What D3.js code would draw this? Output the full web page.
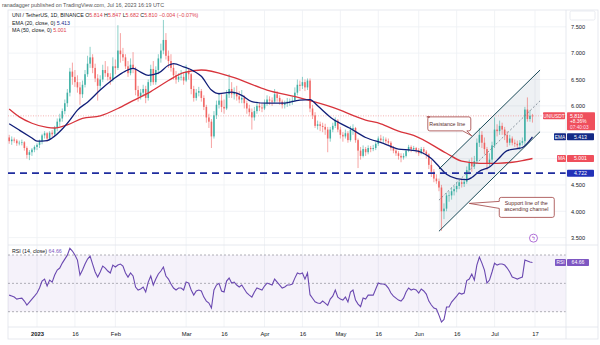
<!DOCTYPE html>
<html><head><meta charset="utf-8">
<script src="https://cdn.jsdelivr.net/npm/d3@7"></script>
<style>
html,body{margin:0;padding:0;background:#fff;}
svg{display:block;font-family:"Liberation Sans",Arial,sans-serif;}
</style></head><body>
<svg id="c" width="600" height="345"></svg>
<script>
// ---------------- DATA ----------------
const startDate = "2022-12-21"; // first daily candle, one candle per day
const opens = [
5.40,5.33,5.36,5.34,5.29,5.30,5.31,5.20,5.07,5.12,
5.17,5.22,5.26,5.33,5.44,5.48,5.38,5.49,5.46,5.58,
5.70,5.76,5.90,6.05,6.25,6.65,6.55,6.45,6.35,6.22,
6.40,6.60,6.80,6.92,6.72,6.52,6.38,6.50,6.68,6.62,
6.55,6.50,6.75,6.72,7.05,6.98,6.92,6.75,6.62,6.78,
6.70,6.30,6.18,6.25,6.32,6.15,6.45,6.70,6.45,6.68,
6.90,7.05,7.25,6.95,6.85,6.72,6.58,6.50,6.55,6.55,
6.48,6.65,6.60,6.32,6.15,6.25,6.28,6.15,5.98,5.78,
5.70,5.42,5.82,6.02,6.10,5.98,5.95,6.22,6.32,6.22,
6.25,6.18,6.12,6.15,6.05,5.95,5.88,5.78,5.90,6.00,
5.97,5.95,6.05,6.12,6.10,6.08,6.22,6.15,6.08,6.02,
6.05,6.08,6.08,6.10,6.25,6.40,6.38,6.45,6.35,6.48,
5.95,5.82,5.62,5.65,5.62,5.60,5.55,5.38,5.55,5.62,
5.72,5.55,5.45,5.42,5.48,5.35,5.55,5.58,5.35,5.15,
5.05,5.18,5.12,5.20,5.18,5.20,5.28,5.38,5.35,5.36,
5.33,5.30,5.20,5.15,5.10,5.05,5.02,5.05,5.15,5.22,
5.18,5.20,5.16,5.10,5.18,5.13,5.08,4.88,4.75,4.62,
4.57,4.45,4.00,4.05,4.30,4.30,4.38,4.42,4.48,4.55,
4.52,4.56,4.78,4.92,4.85,4.95,5.30,5.45,5.30,5.18,
4.90,4.98,5.25,5.55,5.52,5.62,5.55,5.45,5.30,5.38,
5.30,5.28,5.25,5.30,5.33,5.93,5.75,5.814];
const highs = [
5.45,5.42,5.40,5.37,5.34,5.36,5.33,5.23,5.16,5.20,
5.25,5.29,5.36,5.47,5.52,5.50,5.52,5.54,5.62,5.76,
5.85,5.95,6.12,6.32,6.72,6.82,6.68,6.58,6.45,6.48,
6.68,6.95,7.12,6.98,6.80,6.60,6.58,6.78,6.85,6.75,
6.62,6.92,6.88,7.53,7.38,7.10,6.98,6.85,6.90,7.02,
6.74,6.38,6.32,6.40,6.38,6.50,6.78,6.85,6.75,6.98,
7.18,7.63,7.38,7.05,6.98,6.80,6.66,6.62,6.68,6.62,
6.78,6.72,6.62,6.38,6.32,6.36,6.32,6.20,6.02,5.85,
5.75,5.90,6.10,6.25,6.22,6.12,6.30,6.60,6.45,6.35,
6.38,6.28,6.30,6.20,6.10,6.02,5.95,5.98,6.08,6.06,
6.05,6.12,6.20,6.18,6.16,6.32,6.28,6.20,6.12,6.10,
6.15,6.14,6.18,6.35,6.50,6.48,6.55,6.50,6.52,6.52,
6.02,5.88,5.72,5.70,5.68,5.66,5.60,5.60,5.68,5.78,
5.75,5.60,5.50,5.55,5.52,5.62,5.65,5.60,5.38,5.22,
5.25,5.22,5.25,5.24,5.26,5.32,5.42,5.45,5.42,5.40,
5.38,5.33,5.24,5.20,5.14,5.10,5.10,5.18,5.26,5.25,
5.24,5.22,5.20,5.22,5.22,5.16,5.10,4.97,4.80,4.70,
4.62,4.50,4.15,4.35,4.38,4.45,4.48,4.55,4.60,4.62,
4.62,4.85,4.98,5.02,5.05,5.38,5.58,5.52,5.40,5.22,
5.10,5.32,5.78,5.65,5.72,5.68,5.60,5.52,5.45,5.42,
5.36,5.34,5.35,5.40,5.98,6.16,5.92,5.847];
const lows = [
5.28,5.26,5.30,5.24,5.25,5.25,5.15,5.00,4.97,5.05,
5.12,5.16,5.20,5.27,5.38,5.32,5.35,5.40,5.43,5.52,
5.62,5.70,5.84,5.98,6.18,6.40,6.36,6.25,6.02,6.15,
6.35,6.55,6.72,6.62,6.45,6.10,6.30,6.45,6.55,6.48,
6.40,6.46,6.60,6.68,6.82,6.85,6.70,6.55,6.58,6.62,
6.20,6.08,6.12,6.18,6.05,6.10,6.38,6.40,6.40,6.60,
6.82,6.98,6.88,6.72,6.65,6.50,6.42,6.45,6.48,6.40,
6.45,6.50,6.22,6.08,6.10,6.18,6.08,5.92,5.68,5.58,
5.20,5.38,5.75,5.95,5.88,5.85,5.92,6.15,6.15,6.12,
6.10,6.05,6.05,5.95,5.85,5.80,5.55,5.72,5.85,5.90,
5.88,5.92,6.00,6.02,6.00,6.05,6.08,6.02,5.95,5.95,
5.98,6.00,6.02,6.08,6.20,6.28,6.32,6.28,6.30,5.88,
5.75,5.58,5.55,5.52,5.50,5.45,5.12,5.32,5.50,5.58,
5.50,5.38,5.32,5.38,5.30,5.32,5.45,5.30,4.82,4.98,
5.02,5.05,5.08,5.12,5.14,5.16,5.24,5.30,5.30,5.28,
5.26,5.15,5.10,5.05,4.98,4.93,4.98,5.02,5.12,5.12,
5.14,5.10,5.05,5.08,5.08,5.00,4.80,4.65,4.55,4.52,
4.38,3.63,3.85,4.00,4.18,4.22,4.30,4.36,4.42,4.45,
4.46,4.52,4.70,4.75,4.80,4.90,5.22,5.20,5.08,4.78,
4.85,4.92,5.20,5.42,5.45,5.45,5.35,5.22,5.25,5.25,
5.22,5.20,5.16,5.25,5.25,5.70,5.70,5.682];
const closes = [
5.33,5.36,5.34,5.29,5.30,5.31,5.20,5.07,5.12,5.17,
5.22,5.26,5.33,5.44,5.48,5.38,5.49,5.46,5.58,5.70,
5.76,5.90,6.05,6.25,6.65,6.55,6.45,6.35,6.22,6.40,
6.60,6.80,6.92,6.72,6.52,6.38,6.50,6.68,6.62,6.55,
6.50,6.75,6.72,7.05,6.98,6.92,6.75,6.62,6.78,6.70,
6.30,6.18,6.25,6.32,6.15,6.45,6.70,6.45,6.68,6.90,
7.05,7.25,6.95,6.85,6.72,6.58,6.50,6.55,6.55,6.48,
6.65,6.60,6.32,6.15,6.25,6.28,6.15,5.98,5.78,5.70,
5.42,5.82,6.02,6.10,5.98,5.95,6.22,6.32,6.22,6.25,
6.18,6.12,6.15,6.05,5.95,5.88,5.78,5.90,6.00,5.97,
5.95,6.05,6.12,6.10,6.08,6.22,6.15,6.08,6.02,6.05,
6.08,6.08,6.10,6.25,6.40,6.38,6.45,6.35,6.48,5.95,
5.82,5.62,5.65,5.62,5.60,5.55,5.38,5.55,5.62,5.72,
5.55,5.45,5.42,5.48,5.35,5.55,5.58,5.35,5.15,5.05,
5.18,5.12,5.20,5.18,5.20,5.28,5.38,5.35,5.36,5.33,
5.30,5.20,5.15,5.10,5.05,5.02,5.05,5.15,5.22,5.18,
5.20,5.16,5.10,5.18,5.13,5.08,4.88,4.75,4.62,4.57,
4.45,4.00,4.05,4.30,4.30,4.38,4.42,4.48,4.55,4.52,
4.56,4.78,4.92,4.85,4.95,5.30,5.45,5.30,5.18,4.90,
4.98,5.25,5.55,5.52,5.62,5.55,5.45,5.30,5.38,5.30,
5.28,5.25,5.30,5.33,5.93,5.75,5.814,5.810];
const rsiValues = [
41.7,41.0,40.3,38.9,39.3,39.6,37.5,34.7,36.8,38.9,
41.0,43.2,46.7,51.6,53.0,48.1,52.3,50.9,55.9,59.4,
60.8,64.3,67.1,69.9,74.8,72.8,70.0,66.4,55.9,59.4,
63.6,67.1,69.2,63.6,58.0,54.4,58.0,62.2,60.8,58.7,
57.3,62.9,61.5,62.9,63.6,62.2,57.3,54.4,57.3,55.2,
47.4,45.3,46.0,47.4,43.9,50.9,55.2,48.8,53.0,56.6,
58.7,61.5,55.2,53.0,49.5,46.7,45.3,46.7,46.7,45.3,
50.9,50.2,45.3,41.7,44.6,45.3,44.6,40.3,37.5,36.1,
32.6,45.3,48.8,50.0,44.6,43.9,51.6,53.7,50.2,50.9,
48.8,47.4,48.8,46.0,43.2,41.7,40.3,43.9,46.7,46.0,
45.3,48.1,50.2,49.5,48.8,53.0,50.9,48.8,46.7,47.4,
48.8,48.8,49.5,53.7,57.3,56.6,57.3,53.0,57.3,42.0,
39.5,37.0,36.1,35.8,37.5,36.1,34.5,38.9,41.0,45.3,
40.3,38.9,38.2,40.3,36.8,43.9,45.3,38.2,35.4,33.5,
39.6,38.9,41.7,41.7,41.7,46.0,50.2,49.5,49.5,48.8,
46.7,43.2,41.0,39.6,38.2,37.5,39.6,43.9,46.7,45.3,
46.0,45.3,43.2,46.0,44.6,42.4,37.5,34.7,32.6,31.9,
27.6,22.7,24.5,33.3,33.3,36.8,38.9,41.0,43.2,42.4,
43.2,52.0,53.0,56.6,52.3,62.9,68.5,64.3,59.4,50.2,
52.3,58.0,64.3,62.9,63.6,63.6,62.9,60.8,58.0,54.4,
53.7,53.0,53.7,54.4,66.4,65.7,65.0,64.66];
// EMA(20) and MA(50) at key dates
const emaDates = ["2022-12-21","2022-12-25","2022-12-30","2023-01-01","2023-01-05","2023-01-07","2023-01-11","2023-01-14","2023-01-17","2023-01-21","2023-01-26","2023-01-31","2023-02-05","2023-02-08","2023-02-11","2023-02-14","2023-02-18","2023-02-22","2023-02-24","2023-02-28","2023-03-04","2023-03-07","2023-03-11","2023-03-14","2023-03-19","2023-03-23","2023-03-27","2023-04-02","2023-04-08","2023-04-15","2023-04-19","2023-04-22","2023-04-28","2023-05-05","2023-05-11","2023-05-18","2023-05-24","2023-05-29","2023-06-02","2023-06-06","2023-06-09","2023-06-12","2023-06-16","2023-06-20","2023-06-22","2023-06-25","2023-06-29","2023-07-02","2023-07-06","2023-07-10","2023-07-12","2023-07-16"];
const emaValues = [5.66,5.54,5.39,5.33,5.34,5.39,5.56,5.73,5.92,6.07,6.30,6.50,6.66,6.71,6.64,6.58,6.62,6.77,6.80,6.74,6.66,6.56,6.30,6.23,6.26,6.20,6.08,6.05,6.05,6.11,6.12,6.00,5.75,5.57,5.40,5.29,5.18,5.16,5.12,5.00,4.85,4.70,4.62,4.60,4.64,4.76,4.84,4.97,5.15,5.19,5.21,5.413];
const maDates = ["2022-12-21","2022-12-25","2022-12-30","2023-01-05","2023-01-08","2023-01-13","2023-01-19","2023-01-26","2023-02-02","2023-02-08","2023-02-15","2023-02-22","2023-02-28","2023-03-07","2023-03-19","2023-04-02","2023-04-15","2023-04-28","2023-05-11","2023-05-17","2023-05-24","2023-05-30","2023-06-12","2023-06-18","2023-06-25","2023-07-02","2023-07-08","2023-07-12","2023-07-16"];
const maValues = [5.94,5.79,5.67,5.59,5.58,5.64,5.76,5.81,5.95,6.10,6.27,6.48,6.63,6.68,6.55,6.30,6.15,5.97,5.73,5.66,5.52,5.44,5.10,4.95,4.91,4.91,4.93,4.96,5.001];
const priceTicks = [3.5,4.0,4.5,5.0,5.5,6.0,6.5,7.0,7.5];
const priceLabelTicks = [3.5,4.0,4.5,6.0,6.5,7.0,7.5]; // 5.0 and 5.5 are hidden behind tags
const rsiTicks = [20,30,40,50,60,70];
const timeTickDates = ["2023-01-01","2023-01-16","2023-02-01","2023-03-01","2023-03-16","2023-04-01","2023-04-16","2023-05-01","2023-05-16","2023-06-01","2023-06-16","2023-07-01","2023-07-17"];
const timeTickLabels = ["2023","16","Feb","Mar","16","Apr","16","May","16","Jun","16","Jul","17"];
const horizontalLevel = 4.722;
const channelDates = ["2023-06-09","2023-07-19"];
const channelUpper = [4.80, 6.68];
const channelLower = [3.62, 5.51];
const lastChange = "+8.36%";
const countdown = "07:40:03";
const publishText = "ranadagger published on TradingView.com, Jul 16, 2023 16:19 UTC";

// ---------------- SETUP ----------------
const svg = d3.select("#c");
const L = 8, R = 566, T = 10, MB = 245, RB = 327, B = 339, RE = 598;
const parse = d3.utcParse("%Y-%m-%d");
const start = parse(startDate);
const candles = closes.map((c, i) => ({date: d3.utcDay.offset(start, i), o: opens[i], h: highs[i], l: lows[i], c, rsi: rsiValues[i]}));
const x = d3.scaleUtc().domain([parse("2023-01-01"), parse("2023-07-17")]).range([37, 535]);
const y = d3.scaleLinear().domain([3.5, 7.5]).range([237.6, 26.8]);
const yr = d3.scaleLinear().domain([30, 70]).range([311.7, 255]);

const defs = svg.append("defs");
defs.append("clipPath").attr("id", "cm").append("rect").attr("x", L).attr("y", T).attr("width", R - L).attr("height", MB - T);
defs.append("clipPath").attr("id", "cr").append("rect").attr("x", L).attr("y", MB).attr("width", R - L).attr("height", RB - MB);
defs.append("clipPath").attr("id", "cra").append("rect").attr("x", R).attr("y", MB).attr("width", RE - R).attr("height", RB - MB + 1);

svg.append("rect").attr("width", 600).attr("height", 345).attr("fill", "#fff");
svg.append("text").attr("x", 2).attr("y", 6.5).attr("font-size", 5.4).attr("fill", "#555").text(publishText);

// frame
svg.append("rect").attr("x", L).attr("y", T).attr("width", RE - L).attr("height", B - T)
  .attr("fill", "none").attr("stroke", "#e0e3eb").attr("stroke-width", 0.8);

// grids
const tickDates = timeTickDates.map(parse);
const grid = svg.append("g");
grid.selectAll("line.v").data(tickDates).join("line")
  .attr("x1", d => x(d)).attr("x2", d => x(d)).attr("y1", T).attr("y2", RB)
  .attr("stroke", "#eef0f4").attr("stroke-width", 0.8);
grid.selectAll("line.h").data(priceTicks).join("line")
  .attr("x1", L).attr("x2", R).attr("y1", d => y(d)).attr("y2", d => y(d))
  .attr("stroke", "#eef0f4").attr("stroke-width", 0.8);

// ---------------- MAIN PANE ----------------
const main = svg.append("g").attr("clip-path", "url(#cm)");

// channel
const cd = channelDates.map(parse);
const chPoly = [[x(cd[0]), y(channelUpper[0])], [x(cd[1]), y(channelUpper[1])], [x(cd[1]), y(channelLower[1])], [x(cd[0]), y(channelLower[0])]];
main.append("path").attr("d", "M" + chPoly.join("L") + "Z").attr("fill", "#8a9bb0").attr("fill-opacity", 0.14);

// current price dotted line
main.append("line").attr("x1", L).attr("x2", R).attr("y1", y(closes[closes.length - 1])).attr("y2", y(closes[closes.length - 1]))
  .attr("stroke", "#f2a0a0").attr("stroke-width", 0.8).attr("stroke-dasharray", "1,1.5");

// candles
const up = "#26a69a", dn = "#ef5350";
main.selectAll("line.wick").data(candles).join("line")
  .attr("x1", d => x(d.date)).attr("x2", d => x(d.date))
  .attr("y1", d => y(d.h)).attr("y2", d => y(d.l))
  .attr("stroke", d => d.c >= d.o ? up : dn).attr("stroke-opacity", 0.75).attr("stroke-width", 0.7);
main.selectAll("rect.body").data(candles).join("rect")
  .attr("x", d => x(d.date) - 0.8).attr("width", 1.6)
  .attr("y", d => y(Math.max(d.o, d.c)))
  .attr("height", d => Math.max(0.6, Math.abs(y(d.o) - y(d.c))))
  .attr("fill", d => d.c >= d.o ? up : dn).attr("fill-opacity", 0.8);

// EMA / MA
const ln = d3.line().x(d => x(d[0])).y(d => y(d[1])).curve(d3.curveMonotoneX);
main.append("path").attr("d", ln(maDates.map((d, i) => [parse(d), maValues[i]])))
  .attr("fill", "none").attr("stroke", "#d8343c").attr("stroke-width", 1.3);
main.append("path").attr("d", ln(emaDates.map((d, i) => [parse(d), emaValues[i]])))
  .attr("fill", "none").attr("stroke", "#101e78").attr("stroke-width", 1.3);

// horizontal level
main.append("line").attr("x1", L).attr("x2", R).attr("y1", y(horizontalLevel)).attr("y2", y(horizontalLevel))
  .attr("stroke", "#1f2d9e").attr("stroke-width", 1.8).attr("stroke-dasharray", "7,5");

// channel lines
const chLine = (a, b) => main.append("line").attr("x1", x(cd[0])).attr("y1", y(a)).attr("x2", x(cd[1])).attr("y2", y(b));
chLine(channelUpper[0], channelUpper[1]).attr("stroke", "#1a4a58").attr("stroke-width", 1);
chLine(channelLower[0], channelLower[1]).attr("stroke", "#1a4a58").attr("stroke-width", 1);
chLine((channelUpper[0] + channelLower[0]) / 2, (channelUpper[1] + channelLower[1]) / 2)
  .attr("stroke", "#6b7885").attr("stroke-width", 0.8).attr("stroke-dasharray", "2,2");

// callouts anchored to channel lines
function chAt(dateStr, arr) {
  const t = (parse(dateStr) - cd[0]) / (cd[1] - cd[0]);
  return arr[0] + t * (arr[1] - arr[0]);
}
const rx = x(parse("2023-06-22")), ry = y(chAt("2023-06-22", channelUpper)) - 1;
const callouts = svg.append("g").attr("font-size", 5.3).attr("fill", "#5a2a2a");
callouts.append("path")
  .attr("d", `M${rx - 45},${ry - 19} h42 a2,2 0 0 1 2,2 v10 a2,2 0 0 1 -2,2 h-2 L${rx},${ry} L${rx - 9},${ry - 5} h-33 a2,2 0 0 1 -2,-2 v-10 a2,2 0 0 1 2,-2 z`)
  .attr("fill", "#fff").attr("stroke", "#a04040").attr("stroke-width", 0.8);
callouts.append("text").attr("x", rx - 24.5).attr("y", ry - 10.3).attr("text-anchor", "middle").text("Resistance line");

const sx = x(parse("2023-06-21")), sy = y(chAt("2023-06-21", channelLower)) + 2;
callouts.append("path")
  .attr("d", `M${sx + 32},${sy - 6} h51 a2,2 0 0 1 2,2 v16 a2,2 0 0 1 -2,2 h-51 a2,2 0 0 1 -2,-2 v-7 L${sx},${sy} L${sx + 30},${sy - 2} v-2 a2,2 0 0 1 2,-2 z`)
  .attr("fill", "#fff").attr("stroke", "#a04040").attr("stroke-width", 0.8);
callouts.append("text").attr("x", sx + 57).attr("y", sy + 1.5).attr("text-anchor", "middle").text("Support line of the");
callouts.append("text").attr("x", sx + 57).attr("y", sy + 8).attr("text-anchor", "middle").text("ascending channel");

// lightning icon
const ix = x(parse("2023-07-16")) + 1, iy = y(3.49);
svg.append("circle").attr("cx", ix).attr("cy", iy).attr("r", 4).attr("fill", "#fff").attr("stroke", "#9c4dcc").attr("stroke-width", 0.8);
svg.append("text").attr("x", ix).attr("y", iy + 2).attr("text-anchor", "middle").attr("font-size", 5.5).attr("fill", "#9c4dcc").text("ϟ");

// header legend
const hdr = svg.append("g").attr("font-size", 5.3).attr("fill", "#131722");
const last = candles[candles.length - 1];
const prev = candles[candles.length - 2];
const chg = last.c - prev.c;
const t1 = hdr.append("text").attr("x", 12).attr("y", 17);
t1.append("tspan").text("UNI / TetherUS, 1D, BINANCE  ");
const red = "#e0414d";
[["O", last.o], ["H", last.h], ["L", last.l], ["C", last.c]].forEach(([k, v]) => {
  t1.append("tspan").text(" " + k);
  t1.append("tspan").attr("fill", red).text(d3.format(".3f")(v));
});
t1.append("tspan").attr("fill", red).text("  " + d3.format(".3f")(chg) + " (" + d3.format(".2f")(chg / prev.c * 100) + "%)");
const t2 = hdr.append("text").attr("x", 12).attr("y", 24.5);
t2.append("tspan").text("EMA (20, close, 0)  ");
t2.append("tspan").attr("fill", "#1b2a8a").text(d3.format(".3f")(emaValues[emaValues.length - 1]));
const t3 = hdr.append("text").attr("x", 12).attr("y", 32);
t3.append("tspan").text("MA (50, close, 0)  ");
t3.append("tspan").attr("fill", red).text(d3.format(".3f")(maValues[maValues.length - 1]));

// ---------------- RSI PANE ----------------
const rsiG = svg.append("g").attr("clip-path", "url(#cr)");
rsiG.append("rect").attr("x", L).attr("width", R - L).attr("y", yr(70)).attr("height", yr(30) - yr(70))
  .attr("fill", "#7e57c2").attr("fill-opacity", 0.08);
rsiG.selectAll("line.rg").data([70, 50, 30]).join("line")
  .attr("x1", L).attr("x2", R).attr("y1", d => yr(d)).attr("y2", d => yr(d))
  .attr("stroke", "#8f8f9a").attr("stroke-width", 0.7).attr("stroke-dasharray", "2,2");
rsiG.append("path").attr("d", d3.line().x(d => x(d.date)).y(d => yr(d.rsi))(candles))
  .attr("fill", "none").attr("stroke", "#6a48b0").attr("stroke-width", 1.1);
const t4 = svg.append("text").attr("x", 12).attr("y", 253).attr("font-size", 5.3).attr("fill", "#131722");
t4.append("tspan").text("RSI (14, close)  ");
t4.append("tspan").attr("fill", "#7e57c2").text(d3.format(".2f")(rsiValues[rsiValues.length - 1]));

// pane separators
svg.append("line").attr("x1", L).attr("x2", RE).attr("y1", MB).attr("y2", MB).attr("stroke", "#e0e3eb").attr("stroke-width", 0.8);
svg.append("line").attr("x1", L).attr("x2", RE).attr("y1", RB).attr("y2", RB).attr("stroke", "#e0e3eb").attr("stroke-width", 0.8);
svg.append("line").attr("x1", R).attr("x2", R).attr("y1", T).attr("y2", B).attr("stroke", "#e0e3eb").attr("stroke-width", 0.8);
svg.append("rect").attr("x", 570).attr("y", 11).attr("width", 25).attr("height", 9).attr("rx", 1.5)
  .attr("fill", "#fff").attr("stroke", "#e0e3eb").attr("stroke-width", 0.7);

// ---------------- AXES ----------------
function styleAxis(g) {
  g.select(".domain").remove();
  g.selectAll("text").attr("fill", "#131722").attr("font-family", '"Liberation Sans",Arial,sans-serif');
}
svg.append("g").attr("transform", `translate(${R},0)`)
  .call(d3.axisRight(y).tickValues(priceLabelTicks).tickFormat(d3.format(".3f")).tickSize(0).tickPadding(5))
  .call(styleAxis).attr("font-size", 5.6);
svg.append("g").attr("transform", `translate(${R},0)`).attr("clip-path", "url(#cra)")
  .call(d3.axisRight(yr).tickValues(rsiTicks).tickFormat(d3.format(".2f")).tickSize(0).tickPadding(5))
  .call(styleAxis).attr("font-size", 5.6);
const xa = svg.append("g").attr("transform", `translate(0,${RB})`)
  .call(d3.axisBottom(x).tickValues(tickDates).tickFormat((d, i) => timeTickLabels[i]).tickSize(0).tickPadding(4.5))
  .call(styleAxis).attr("font-size", 5.8);
xa.selectAll("text").filter((d, i) => i === 0).attr("font-weight", "bold");

// ---------------- PRICE TAGS ----------------
function tag(yv, text, fill, x0, w, h, fs, bold) {
  const g = svg.append("g");
  g.append("rect").attr("x", x0).attr("y", yv - h / 2).attr("width", w).attr("height", h).attr("fill", fill).attr("rx", 0.8);
  g.append("text").attr("x", x0 + w / 2).attr("y", yv + fs * 0.36).attr("text-anchor", "middle")
    .attr("font-size", fs).attr("fill", "#fff").attr("font-weight", bold ? "bold" : "normal").text(text);
  return g;
}
const yc = y(last.c);
tag(yc, "UNIUSDT", "#ef4f5c", 543, 22, 7, 4.8, false);
const pg = svg.append("g");
pg.append("rect").attr("x", 567).attr("y", yc - 3.5).attr("width", 28).attr("height", 18).attr("fill", "#ef4f5c").attr("rx", 0.8);
pg.append("text").attr("x", 570).attr("y", yc + 1.8).attr("font-size", 5.2).attr("fill", "#fff").text(d3.format(".3f")(last.c));
pg.append("text").attr("x", 570).attr("y", yc + 7.4).attr("font-size", 4.8).attr("fill", "#fff").text(lastChange);
pg.append("text").attr("x", 570).attr("y", yc + 12.8).attr("font-size", 4.8).attr("fill", "#fde").text(countdown);

const emaLast = emaValues[emaValues.length - 1], maLast = maValues[maValues.length - 1];
tag(y(emaLast), "EMA", "#142a86", 554, 12, 7, 4.8, false);
tag(y(emaLast), d3.format(".3f")(emaLast), "#142a86", 567, 27, 7, 5.2, false);
tag(y(maLast), "MA", "#ef4f5c", 557, 9, 7, 4.8, false);
tag(y(maLast), d3.format(".3f")(maLast), "#ef4f5c", 567, 27, 7, 5.2, false);
tag(y(horizontalLevel), d3.format(".3f")(horizontalLevel), "#2231b8", 567, 27, 7, 5.2, false);
const rLast = rsiValues[rsiValues.length - 1];
tag(yr(rLast), "RSI", "#7e57c2", 555, 11, 7, 4.8, false);
tag(yr(rLast), d3.format(".2f")(rLast), "#7e57c2", 567, 22, 7, 5.2, false);
</script>
</body></html>
